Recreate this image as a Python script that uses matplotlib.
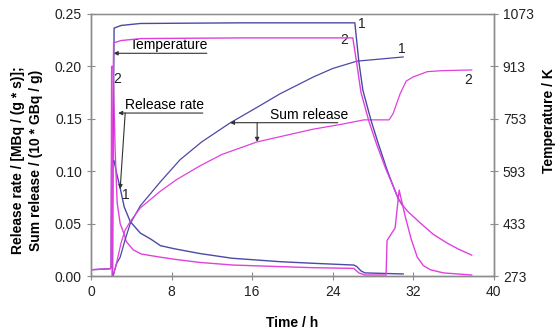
import numpy as np
import matplotlib.pyplot as plt

plt.rcParams['font.family'] = ['Liberation Sans', 'DejaVu Sans']

# release rate (left axis)
rate1_t = [0, 1.9, 2.0, 2.05, 2.3, 2.5, 2.9, 3.3, 3.9, 4.9, 5.9, 6.9, 8.3, 10.8, 14, 18.8, 22.0, 26.1, 26.4, 26.8, 27.2, 31.0]
rate1_v = [0.006, 0.007, 0.008, 0.108, 0.110, 0.100, 0.084, 0.066, 0.052, 0.041, 0.0355, 0.029, 0.026, 0.0215, 0.017, 0.0137, 0.0122, 0.0105, 0.009, 0.005, 0.003, 0.002]
rate2_t = [0, 1.9, 2.0, 2.05, 2.2, 2.4, 2.6, 2.9, 3.3, 3.5, 4.2, 5.0, 6.9, 8.3, 10.8, 14.1, 18.8, 22.0, 26.1, 26.6, 27.2, 29.3, 29.4, 30.2, 30.6, 31.2, 31.8, 32.4, 33.0, 33.7, 35.0, 37.8]
rate2_v = [0.006, 0.007, 0.008, 0.20, 0.20, 0.12, 0.07, 0.05, 0.040, 0.033, 0.025, 0.021, 0.018, 0.016, 0.013, 0.0105, 0.009, 0.008, 0.0073, 0.003, 0.001, 0.001, 0.034, 0.046, 0.082, 0.057, 0.035, 0.018, 0.010, 0.006, 0.003, 0.001]

# sum release (left axis)
sum1_t = [2.2, 2.55, 2.9, 3.4, 3.9, 4.9, 6.9, 8.85, 11, 13.8, 16.5, 18.8, 22.1, 24, 26.4, 28.7, 31]
sum1_v = [0, 0.012, 0.018, 0.035, 0.050, 0.067, 0.090, 0.111, 0.128, 0.146, 0.161, 0.174, 0.190, 0.198, 0.205, 0.207, 0.209]
sum2_t = [2.2, 2.6, 3.0, 3.4, 3.9, 4.9, 6.9, 8.5, 10.8, 13, 16.5, 18.8, 22, 25, 27.1, 29.6, 30.0, 30.7, 31.3, 32.0, 33.4, 35, 37.8]
sum2_v = [0, 0.015, 0.032, 0.044, 0.052, 0.065, 0.081, 0.092, 0.105, 0.116, 0.128, 0.133, 0.140, 0.145, 0.149, 0.149, 0.155, 0.174, 0.186, 0.190, 0.195, 0.196, 0.1966]

# temperature (right axis)
temp1_t = [2.15, 2.2, 2.3, 3.0, 4.9, 15, 26.2, 26.6, 27.0, 27.8, 28.5, 29.4, 30.0, 30.5, 30.9]
temp1_v = [273, 700, 1030, 1038, 1044, 1046, 1046, 927, 840, 749, 680, 597, 548, 510, 490]
temp2_t = [2.1, 2.15, 2.25, 3.0, 5, 15, 26.0, 26.4, 26.8, 27.6, 28.4, 29.3, 30.0, 30.5, 31.0, 31.5, 32.7, 34.0, 35.4, 36.5, 37.8]
temp2_v = [273, 700, 985, 992, 998, 1000, 1000, 920, 835, 745, 672, 598, 548, 510, 487, 469, 435, 400, 373, 355, 337]

blue = '#4A4AA5'
pink = '#E040E0'
grey = '#8C8C8C'

fig = plt.figure(figsize=(5.58, 3.33), dpi=100)
ax = fig.add_axes([0.163, 0.171, 0.722, 0.787])
ax2 = ax.twinx()

ax.plot(rate1_t, rate1_v, color=blue, lw=1.0)
ax.plot(rate2_t, rate2_v, color=pink, lw=1.0)
ax.plot(sum1_t, sum1_v, color=blue, lw=0.9)
ax.plot(sum2_t, sum2_v, color=pink, lw=0.9)
ax2.plot(temp1_t, temp1_v, color=blue, lw=1.0)
ax2.plot(temp2_t, temp2_v, color=pink, lw=1.0)

ax.set_xlim(0, 40)
ax.set_ylim(0, 0.25)
ax2.set_ylim(273, 1073)
ax.set_xticks([0, 8, 16, 24, 32, 40])
ax.set_yticks([0, 0.05, 0.10, 0.15, 0.20, 0.25])
ax.set_yticklabels(['0.00', '0.05', '0.10', '0.15', '0.20', '0.25'])
ax2.set_yticks([273, 433, 593, 753, 913, 1073])

for a in (ax, ax2):
    for s in a.spines.values():
        s.set_color(grey)
        s.set_linewidth(1.0)
    a.tick_params(direction='inout', length=6, color=grey, labelsize=10, labelcolor='#222222')
ax.spines['top'].set_color('#C8C8C8')

ax.set_xlabel('Time / h', fontsize=10, fontweight='bold')
ax.xaxis.set_label_coords(0.5, -0.152)
ax.set_ylabel('Release rate / [MBq / (g * s)];\nSum release / (10 * GBq / g)',
              fontsize=10, fontweight='bold', linespacing=1.35)
ax.yaxis.set_label_coords(-0.12, 0.443)
ax2.set_ylabel('Temperature / K', fontsize=10, fontweight='bold')
ax2.yaxis.set_label_coords(1.12, 0.592)

arrow = dict(arrowstyle='-|>', color='#333333', lw=0.8, mutation_scale=6, shrinkA=0, shrinkB=0)

# Temperature
ax.annotate('', xy=(2.25, 0.2125), xytext=(11.5, 0.2125), arrowprops=arrow)
ax.text(3.9, 0.2135, 'Temperature', fontsize=10, ha='left', va='bottom')
# Release rate
ax.annotate('', xy=(2.7, 0.1555), xytext=(11.1, 0.1555), arrowprops=arrow)
ax.annotate('', xy=(2.9, 0.083), xytext=(3.4, 0.1555), arrowprops=arrow)
ax.text(3.4, 0.1565, 'Release rate', fontsize=10, ha='left', va='bottom')
# Sum release
ax.annotate('', xy=(13.8, 0.1463), xytext=(24.5, 0.1463), arrowprops=arrow)
ax.annotate('', xy=(16.5, 0.128), xytext=(16.5, 0.1463), arrowprops=arrow)
ax.text(17.8, 0.1473, 'Sum release', fontsize=10, ha='left', va='bottom')

# curve numbers
for tx, ty, s in [(2.6, 0.188, '2'), (3.5, 0.077, '1'), (26.9, 0.240, '1'),
                  (25.1, 0.225, '2'), (30.9, 0.217, '1'), (37.5, 0.187, '2')]:
    ax.text(tx, ty, s, fontsize=10, ha='center', va='center', color='#222222')

fig.savefig('out.png', dpi=100)
